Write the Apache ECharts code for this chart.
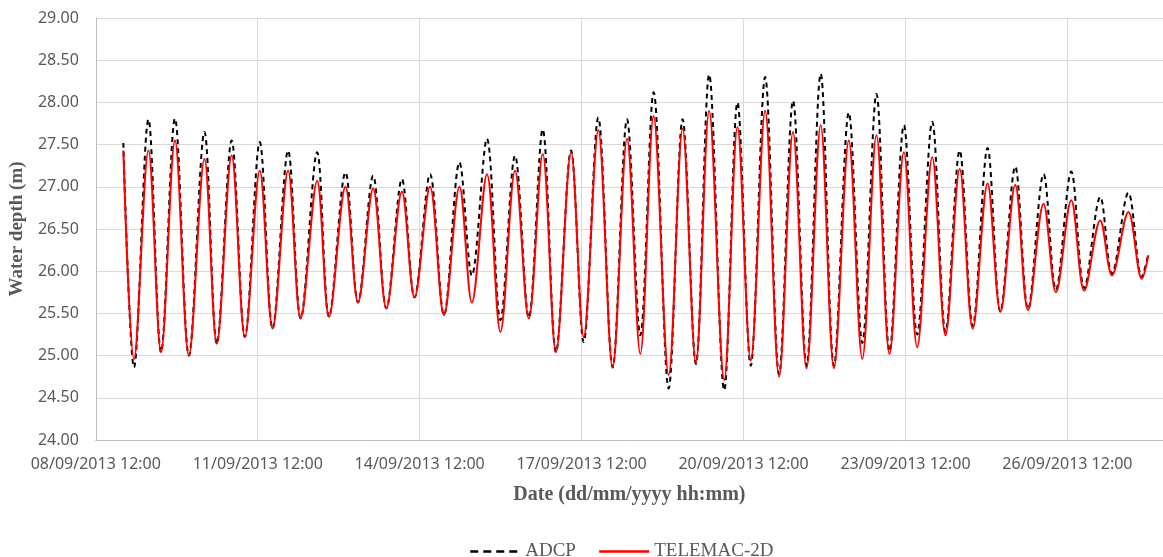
<!DOCTYPE html>
<html>
<head>
<meta charset="utf-8">
<script src="https://cdn.jsdelivr.net/npm/echarts@6/dist/echarts.min.js"></script>
<style>
  html, body { margin: 0; padding: 0; background: #fff; }
  #chart { width: 1163px; height: 557px; }
</style>
</head>
<body>
<div id="chart"></div>
<script>
  // time of each turning point (start, low, high, low, high ... end)
  var times = [
    '2013-09-09 00:15', '2013-09-09 05:00', '2013-09-09 11:24', '2013-09-09 17:00', '2013-09-09 23:12',
    '2013-09-10 05:24', '2013-09-10 12:18', '2013-09-10 17:48', '2013-09-11 00:24', '2013-09-11 06:18',
    '2013-09-11 12:54', '2013-09-11 18:36', '2013-09-12 01:30', '2013-09-12 07:06', '2013-09-12 14:24',
    '2013-09-12 19:42', '2013-09-13 03:00', '2013-09-13 08:36', '2013-09-13 15:18', '2013-09-13 21:12',
    '2013-09-14 04:06', '2013-09-14 09:42', '2013-09-14 16:36', '2013-09-14 22:48', '2013-09-15 05:42',
    '2013-09-15 11:12', '2013-09-15 17:54', '2013-09-15 23:54', '2013-09-16 06:24', '2013-09-16 12:30',
    '2013-09-16 18:42', '2013-09-17 00:36', '2013-09-17 07:18', '2013-09-17 12:54', '2013-09-17 19:24',
    '2013-09-18 01:48', '2013-09-18 08:12', '2013-09-18 14:06', '2013-09-18 20:00', '2013-09-19 02:42',
    '2013-09-19 08:54', '2013-09-19 14:48', '2013-09-19 20:42', '2013-09-20 03:24', '2013-09-20 09:18',
    '2013-09-20 15:12', '2013-09-20 21:36', '2013-09-21 03:48', '2013-09-21 10:00', '2013-09-21 16:00',
    '2013-09-21 22:18', '2013-09-22 04:12', '2013-09-22 10:48', '2013-09-22 16:48', '2013-09-22 23:06',
    '2013-09-23 04:54', '2013-09-23 11:18', '2013-09-23 17:12', '2013-09-23 23:54', '2013-09-24 05:48',
    '2013-09-24 12:06', '2013-09-24 17:54', '2013-09-25 00:30', '2013-09-25 06:12', '2013-09-25 12:48',
    '2013-09-25 18:30', '2013-09-26 01:24', '2013-09-26 06:54', '2013-09-26 13:42', '2013-09-26 19:30',
    '2013-09-27 02:36', '2013-09-27 07:48', '2013-09-27 15:06', '2013-09-27 21:06', '2013-09-28 00:00'
  ];

  var adcp = [
    27.52, 24.86, 27.80, 25.04, 27.81, 25.00, 27.65, 25.14, 27.55, 25.22,
    27.53, 25.32, 27.43, 25.44, 27.41, 25.46, 27.17, 25.63, 27.13, 25.56,
    27.09, 25.69, 27.15, 25.48, 27.29, 25.95, 27.57, 25.42, 27.37, 25.45,
    27.68, 25.04, 27.43, 25.16, 27.82, 24.86, 27.80, 25.24, 28.12, 24.61,
    27.80, 24.90, 28.33, 24.59, 28.00, 24.88, 28.30, 24.78, 28.02, 24.88,
    28.34, 24.88, 27.88, 25.15, 28.10, 25.05, 27.73, 25.25, 27.77, 25.28,
    27.43, 25.35, 27.46, 25.52, 27.24, 25.55, 27.15, 25.78, 27.18, 25.80,
    26.88, 25.97, 26.93, 25.93, 26.21
  ];

  var telemac = [
    27.43, 24.96, 27.43, 25.04, 27.55, 25.00, 27.33, 25.14, 27.37, 25.22,
    27.19, 25.32, 27.19, 25.44, 27.07, 25.46, 27.00, 25.63, 26.98, 25.56,
    26.94, 25.69, 27.00, 25.48, 27.00, 25.63, 27.15, 25.28, 27.19, 25.44,
    27.39, 25.04, 27.41, 25.22, 27.67, 24.86, 27.57, 25.02, 27.84, 24.77,
    27.69, 24.91, 27.90, 24.71, 27.71, 24.94, 27.90, 24.75, 27.65, 24.85,
    27.73, 24.85, 27.55, 24.96, 27.61, 25.02, 27.41, 25.10, 27.35, 25.24,
    27.21, 25.32, 27.04, 25.52, 27.02, 25.54, 26.80, 25.75, 26.84, 25.77,
    26.60, 25.95, 26.70, 25.91, 26.19
  ];

  var startTime = '2013-09-08 12:00';
  var endTime = '2013-09-28 06:30';

  function toMs(s) {
    var p = s.split(/[- :]/);
    return Date.UTC(+p[0], +p[1] - 1, +p[2], +p[3], +p[4]);
  }
  var t0 = toMs(startTime);
  // hours since the first tick
  function hrs(s) { return (toMs(s) - t0) / 3600000; }
  function pad(n) { return (n < 10 ? '0' : '') + n; }
  function fmt(h) {
    var d = new Date(t0 + h * 3600000);
    return pad(d.getUTCDate()) + '/' + pad(d.getUTCMonth() + 1) + '/' + d.getUTCFullYear() +
      ' ' + pad(d.getUTCHours()) + ':' + pad(d.getUTCMinutes());
  }

  var grey = '#595959';
  var myChart = echarts.init(document.getElementById('chart'));
  var option = {
    animation: false,
    grid: { left: 94, top: 18, right: 0, bottom: 117 },
    legend: {
      top: 537,
      left: 464,
      itemWidth: 50,
      itemHeight: 14,
      itemGap: 22,
      itemStyle: { opacity: 0 },
      textStyle: { fontFamily: 'Liberation Serif', fontSize: 19, color: grey },
      data: [
        { name: 'ADCP', lineStyle: { type: [8, 5], width: 2.5 } },
        { name: 'TELEMAC-2D', lineStyle: { width: 2.5 } }
      ]
    },
    xAxis: {
      type: 'value',
      min: 0,
      max: hrs(endTime),
      interval: 72,
      name: 'Date (dd/mm/yyyy hh:mm)',
      nameLocation: 'middle',
      nameGap: 45,
      nameTextStyle: { fontFamily: 'Liberation Serif', fontWeight: 'bold', fontSize: 20, color: grey },
      axisLine: { lineStyle: { color: '#bfbfbf', width: 1 } },
      axisTick: { show: false },
      axisLabel: {
        margin: 16,
        showMaxLabel: false,
        fontFamily: 'Noto Sans',
        fontSize: 16,
        color: grey,
        formatter: fmt
      },
      splitLine: { show: true, lineStyle: { color: '#d9d9d9', width: 1 } }
    },
    yAxis: {
      type: 'value',
      min: 24,
      max: 29,
      interval: 0.5,
      name: 'Water depth (m)',
      nameLocation: 'middle',
      nameGap: 67,
      nameTextStyle: { fontFamily: 'Liberation Serif', fontWeight: 'bold', fontSize: 19, color: grey },
      axisLine: { show: true, lineStyle: { color: '#bfbfbf', width: 1 } },
      axisTick: { show: false },
      axisLabel: {
        margin: 17,
        fontFamily: 'Noto Sans',
        fontSize: 16,
        color: grey,
        formatter: function (v) { return v.toFixed(2); }
      },
      splitLine: { show: true, lineStyle: { color: '#d9d9d9', width: 1 } }
    },
    series: [
      {
        name: 'ADCP',
        type: 'line',
        z: 2,
        smooth: 0.35,
        symbol: 'none',
        data: times.map(function (t, i) { return [hrs(t), adcp[i]]; }),
        lineStyle: { color: '#000', width: 2, type: [5, 4] },
        itemStyle: { color: '#000' }
      },
      {
        name: 'TELEMAC-2D',
        type: 'line',
        z: 3,
        smooth: 0.35,
        symbol: 'none',
        data: times.map(function (t, i) { return [hrs(t), telemac[i]]; }),
        lineStyle: { color: '#ff0000', width: 2 },
        itemStyle: { color: '#ff0000' }
      }
    ]
  };
  myChart.setOption(option, true);
</script>
</body>
</html>
